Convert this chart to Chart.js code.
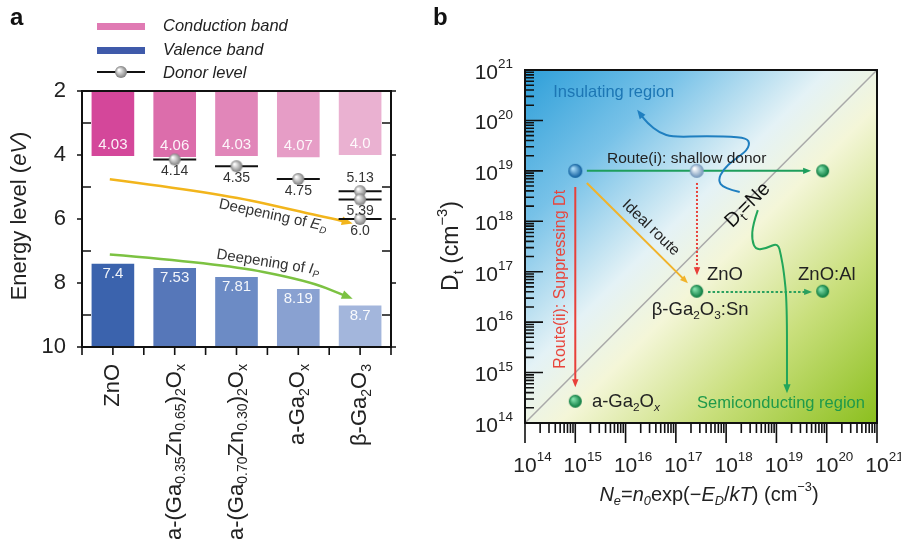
<!DOCTYPE html>
<html>
<head>
<meta charset="utf-8">
<script src="https://cdn.jsdelivr.net/npm/chart.js@4.4.1/dist/chart.umd.min.js"></script>
<style>
html, body { margin: 0; padding: 0; background: #fff; }
#wrap { position: relative; width: 901px; height: 550px; }
#wrap canvas { position: absolute; left: 0; top: 0; }
</style>
</head>
<body>
<div id="wrap">
  <canvas id="chartA" width="901" height="550"></canvas>
  <canvas id="chartB" width="901" height="550"></canvas>
</div>
<script>
// ---------- panel a : band alignment ----------
var materials = ['ZnO', 'a-(Ga_{0.35}Zn_{0.65})_{2}O_{x}', 'a-(Ga_{0.70}Zn_{0.30})_{2}O_{x}', 'a-Ga_{2}O_{x}', 'β-Ga_{2}O_{3}'];
var conductionBand = [4.03, 4.06, 4.03, 4.07, 4.0];
var valenceBand = [7.4, 7.53, 7.81, 8.19, 8.7];
var donorLevels = [[], [4.14], [4.35], [4.75], [5.13, 5.39, 6.0]];
var energyMin = 2, energyMax = 10;
// annotation arrows, in (category index, eV)
var edArrow = [[-0.05, 4.76], [1.73, 5.2], [3.14, 5.82], [3.67, 6.04], [3.88, 6.14]];
var ipArrow = [[-0.05, 7.11], [1.73, 7.39], [3.14, 7.92], [3.88, 8.49]];
var edLabel = {text: 'Deepening of *{E}%{D}', at: [2.59, 5.89], angle: 12};
var ipLabel = {text: 'Deepening of *{I}%{P}', at: [2.51, 7.36], angle: 9};

// ---------- panel b : Dt vs Ne (log10 exponents for annotations) ----------
var decades = [14, 15, 16, 17, 18, 19, 20, 21];
var startPoint = [{x: 1e15, y: 1e19}];
var shallowPoint = [{x: 2.6e17, y: 1e19}];
var materialPoints = [{x: 8.3e19, y: 1e19}, {x: 2.6e17, y: 4.1e16}, {x: 8.3e19, y: 4.1e16}, {x: 1e15, y: 2.7e14}];
var routeI = [[15.23, 19.0], [19.69, 19.0]];
var routeII = [[15.0, 18.68], [15.0, 14.71]];
var shallowDrop = [[17.42, 18.76], [17.42, 16.93]];
var idealRoute = [[15.23, 18.76], [17.24, 16.77]];
var dopingRoute = [[17.64, 16.6], [19.71, 16.6]];
var insulatingCurve = [[18.27, 18.58], [17.94, 18.66], [17.84, 18.82], [17.94, 19.02], [18.14, 19.21], [18.43, 19.41],
  [18.47, 19.61], [18.27, 19.67], [17.62, 19.69], [16.94, 19.67], [16.68, 19.75], [16.43, 19.95], [16.23, 20.21]];
var semiCurve = [[18.63, 18.22], [18.53, 17.93], [18.51, 17.63], [18.59, 17.43], [18.81, 17.47], [19.03, 17.57],
  [19.09, 17.33], [19.15, 16.99], [19.21, 16.38], [19.21, 14.59]];
var textsB = [
  {text: 'Insulating region', at: [14.56, 20.56], size: 16.5, color: '#1c76b4', align: 'left'},
  {text: 'Route(i): shallow donor', at: [15.63, 19.25], size: 15.5, color: '#222', align: 'left'},
  {text: 'Ideal route', at: [16.5, 17.87], size: 15.5, color: '#222', align: 'center', angle: 44},
  {text: 'Route(ii): Suppressing Dt', at: [14.7, 16.85], size: 16, color: '#e8453c', align: 'center', angle: -90},
  {text: 'D_{t}=Ne', at: [18.43, 18.32], size: 20, color: '#111', align: 'center', angle: -45},
  {text: 'ZnO', at: [17.62, 16.93], size: 18.5, color: '#222', align: 'left'},
  {text: 'ZnO:Al', at: [19.43, 16.93], size: 18.5, color: '#222', align: 'left'},
  {text: 'β-Ga_{2}O_{3}:Sn', at: [16.52, 16.24], size: 18.5, color: '#222', align: 'left'},
  {text: 'a-Ga_{2}O%{x}', at: [15.33, 14.41], size: 18.5, color: '#222', align: 'left'},
  {text: 'Semiconducting region', at: [20.76, 14.39], size: 16.5, color: '#1f9a4a', align: 'right'}
];

var FONT = "'Liberation Sans', Arial, sans-serif";
var cbColors = ['#d4479a', '#dc6dab', '#e186b9', '#e69dc6', '#eab1d1'];
var vbColors = ['#3b63ad', '#5677b9', '#6c8bc5', '#89a1d1', '#a3b6dc'];

// _{} sub, ^{} sup, *{} italic, %{} italic sub
function parseRich(str) {
  var out = [], re = /([_^*%])\{([^}]*)\}|([^_^*%]+)/g, m;
  while ((m = re.exec(str)) !== null) {
    if (m[3] !== undefined) out.push({t: m[3], k: ''});
    else out.push({t: m[2], k: m[1]});
  }
  return out;
}
function drawRich(ctx, str, x, y, size, opt) {
  opt = opt || {};
  var segs = parseRich(str), small = size * 0.64, total = 0;
  function fontFor(s) {
    var it = (s.k === '*' || s.k === '%') ? 'italic ' : '';
    var sz = (s.k === '_' || s.k === '^' || s.k === '%') ? small : size;
    return it + (opt.bold ? 'bold ' : '') + sz + 'px ' + FONT;
  }
  segs.forEach(function (s) { ctx.font = fontFor(s); s.w = ctx.measureText(s.t).width; total += s.w; });
  ctx.save();
  ctx.translate(x, y);
  if (opt.angle) ctx.rotate(opt.angle * Math.PI / 180);
  ctx.fillStyle = opt.color || '#222';
  ctx.textBaseline = 'middle';
  ctx.textAlign = 'left';
  var cx = opt.align === 'right' ? -total : (opt.align === 'center' ? -total / 2 : 0);
  segs.forEach(function (s) {
    ctx.font = fontFor(s);
    var dy = 0;
    if (s.k === '_' || s.k === '%') dy = size * 0.3;
    if (s.k === '^') dy = -size * 0.4;
    ctx.fillText(s.t, cx, dy);
    cx += s.w;
  });
  ctx.restore();
  return total;
}
function sphere(light, dark, r) {
  var c = document.createElement('canvas'), s = Math.ceil(r * 2 + 2);
  c.width = s; c.height = s;
  var g = c.getContext('2d');
  var grad = g.createRadialGradient(s / 2 - r * 0.35, s / 2 - r * 0.35, r * 0.1, s / 2, s / 2, r);
  grad.addColorStop(0, light); grad.addColorStop(1, dark);
  g.fillStyle = grad; g.beginPath(); g.arc(s / 2, s / 2, r, 0, Math.PI * 2); g.fill();
  return c;
}
function arrowPath(ctx, pts, color, width, dash, head) {
  var n = pts.length - 1;
  var dx = pts[n][0] - pts[n - 1][0], dy = pts[n][1] - pts[n - 1][1];
  var a = Math.atan2(dy, dx);
  var tip = pts[n];
  var p = pts.slice();
  p[n] = [tip[0] - Math.cos(a) * head * 0.7, tip[1] - Math.sin(a) * head * 0.7];
  ctx.save();
  ctx.strokeStyle = color; ctx.lineWidth = width; ctx.setLineDash(dash || []);
  ctx.beginPath(); ctx.moveTo(p[0][0], p[0][1]);
  for (var i = 1; i < n; i++) {
    ctx.quadraticCurveTo(p[i][0], p[i][1], (p[i][0] + p[i + 1][0]) / 2, (p[i][1] + p[i + 1][1]) / 2);
  }
  ctx.lineTo(p[n][0], p[n][1]);
  ctx.stroke();
  ctx.setLineDash([]);
  ctx.translate(tip[0], tip[1]); ctx.rotate(a);
  ctx.fillStyle = color; ctx.beginPath();
  ctx.moveTo(0, 0); ctx.lineTo(-head, -head * 0.4); ctx.lineTo(-head, head * 0.4); ctx.closePath(); ctx.fill();
  ctx.restore();
}
function fmt(v) { return Number.isInteger(v) ? v.toFixed(1) : String(v); }

var donorBall = sphere('#ffffff', '#7d7d7d', 6);
var donorPoints = [];
donorLevels.forEach(function (arr, i) { arr.forEach(function (v) { donorPoints.push({x: materials[i], y: v}); }); });

// ---------- chart a ----------
var panelA = {
  id: 'panelA',
  beforeDatasetsDraw: function (chart) {
    var ctx = chart.ctx, x = chart.scales.x, y = chart.scales.y;
    function px(p) { return [x.getPixelForValue(p[0]), y.getPixelForValue(p[1])]; }
    arrowPath(ctx, edArrow.map(px), '#f2b51c', 2.5, [], 11);
    arrowPath(ctx, ipArrow.map(px), '#7cc242', 2.5, [], 11);
  },
  afterDraw: function (chart) {
    var ctx = chart.ctx, x = chart.scales.x, y = chart.scales.y, a = chart.chartArea;
    // bar values
    materials.forEach(function (m, i) {
      var cx = x.getPixelForValue(i);
      drawRich(ctx, fmt(conductionBand[i]), cx, y.getPixelForValue(conductionBand[i]) - 11, 15, {align: 'center', color: 'rgba(255,255,255,0.92)'});
      drawRich(ctx, fmt(valenceBand[i]), cx, y.getPixelForValue(valenceBand[i]) + 10, 15, {align: 'center', color: 'rgba(255,255,255,0.92)'});
      donorLevels[i].forEach(function (v, j) {
        var above = donorLevels[i].length > 1 && j === 0;
        drawRich(ctx, fmt(v), cx, y.getPixelForValue(v) + (above ? -13 : 12), 14, {align: 'center', color: '#333'});
      });
    });
    drawRich(ctx, edLabel.text, x.getPixelForValue(edLabel.at[0]), y.getPixelForValue(edLabel.at[1]), 15, {align: 'center', color: '#333', angle: edLabel.angle});
    drawRich(ctx, ipLabel.text, x.getPixelForValue(ipLabel.at[0]), y.getPixelForValue(ipLabel.at[1]), 15, {align: 'center', color: '#333', angle: ipLabel.angle});
    // frame and ticks
    ctx.save();
    ctx.strokeStyle = '#111'; ctx.lineWidth = 2;
    ctx.strokeRect(a.left, a.top, a.right - a.left, a.bottom - a.top);
    ctx.lineWidth = 1.6;
    ctx.beginPath();
    y.ticks.forEach(function (t) {
      var py = y.getPixelForValue(t.value);
      if (t.value % 2 === 0) {
        ctx.moveTo(a.left - 5, py); ctx.lineTo(a.left, py);
        ctx.moveTo(a.right, py); ctx.lineTo(a.right + 5, py);
      } else {
        ctx.moveTo(a.left, py); ctx.lineTo(a.left + 9, py);
        ctx.moveTo(a.right, py); ctx.lineTo(a.right - 9, py);
      }
    });
    for (var k = -0.5; k <= materials.length - 0.5; k += 0.5) {
      var tx = x.getPixelForValue(k);
      ctx.moveTo(tx, a.bottom); ctx.lineTo(tx, a.bottom + 8);
    }
    ctx.stroke();
    ctx.restore();
    // category labels
    materials.forEach(function (m, i) {
      drawRich(ctx, m, x.getPixelForValue(i), a.bottom + 17, 22, {align: 'right', angle: -90, color: '#222'});
    });
    drawRich(ctx, 'Energy level (*{eV})', 20, 216, 22, {align: 'center', angle: -90, color: '#222'});
    // legend
    var ds = chart.data.datasets;
    ctx.fillStyle = '#e07ab3'; ctx.fillRect(97, 23, 48, 7);
    ctx.fillStyle = '#3f5aaa'; ctx.fillRect(97, 47, 48, 7);
    ctx.strokeStyle = '#111'; ctx.lineWidth = 2;
    ctx.beginPath(); ctx.moveTo(97, 72); ctx.lineTo(145, 72); ctx.stroke();
    ctx.drawImage(donorBall, 121 - donorBall.width / 2, 72 - donorBall.height / 2);
    drawRich(ctx, '*{' + ds[0].label + '}', 163, 26, 16.5, {color: '#222'});
    drawRich(ctx, '*{' + ds[1].label + '}', 163, 50, 16.5, {color: '#222'});
    drawRich(ctx, '*{' + ds[2].label + '}', 163, 73, 16.5, {color: '#222'});
    drawRich(ctx, 'a', 10, 18, 24, {bold: true, color: '#111'});
    drawRich(ctx, 'b', 433, 18, 24, {bold: true, color: '#111'});
  }
};

new Chart(document.getElementById('chartA'), {
  type: 'bar',
  data: {
    labels: materials,
    datasets: [
      {label: 'Conduction band', data: conductionBand.map(function (v) { return [energyMin, v]; }),
        backgroundColor: cbColors, grouped: false, barPercentage: 0.69, categoryPercentage: 1, order: 3},
      {label: 'Valence band', data: valenceBand.map(function (v) { return [v, energyMax]; }),
        backgroundColor: vbColors, grouped: false, barPercentage: 0.69, categoryPercentage: 1, order: 3},
      {type: 'line', label: 'Donor level', data: donorPoints, showLine: false, pointStyle: 'line',
        pointRadius: 21.5, pointBorderColor: '#111', pointBorderWidth: 2, order: 1},
      {type: 'line', label: 'donor sphere', data: donorPoints, showLine: false, pointStyle: donorBall,
        pointRadius: 6, order: 0}
    ]
  },
  options: {
    responsive: false,
    animation: false,
    events: [],
    layout: {padding: {left: 0, top: 91, right: 510, bottom: 203}},
    plugins: {legend: {display: false}, tooltip: {enabled: false}},
    scales: {
      x: {display: false},
      y: {
        reverse: true, min: energyMin, max: energyMax,
        grid: {display: false}, border: {display: false},
        ticks: {stepSize: 1, autoSkip: false, padding: 8, color: '#222', font: {family: FONT, size: 22},
          callback: function (v) { return v % 2 === 0 ? v : ''; }},
        afterFit: function (s) { s.width = 82; }
      }
    }
  },
  plugins: [panelA]
});

// ---------- chart b ----------
var panelB = {
  id: 'panelB',
  beforeDatasetsDraw: function (chart) {
    var ctx = chart.ctx, x = chart.scales.x, y = chart.scales.y, a = chart.chartArea;
    function px(p) { return [x.getPixelForValue(Math.pow(10, p[0])), y.getPixelForValue(Math.pow(10, p[1]))]; }
    var g = ctx.createLinearGradient(a.left, a.top, a.right, a.bottom);
    g.addColorStop(0, '#2e9fd9');
    g.addColorStop(0.22, '#78c2e8');
    g.addColorStop(0.43, '#e4f2f6');
    g.addColorStop(0.55, '#f4f6d8');
    g.addColorStop(0.75, '#c9df7c');
    g.addColorStop(1, '#8bbf1e');
    ctx.save();
    ctx.fillStyle = g;
    ctx.fillRect(a.left, a.top, a.right - a.left, a.bottom - a.top);
    ctx.strokeStyle = '#a9a9a9'; ctx.lineWidth = 1.5;
    ctx.beginPath();
    ctx.moveTo(x.getPixelForValue(1e14), y.getPixelForValue(1e14));
    ctx.lineTo(x.getPixelForValue(1e21), y.getPixelForValue(1e21));
    ctx.stroke();
    ctx.restore();
    arrowPath(ctx, routeI.map(px), '#1e9e5c', 2, [], 8);
    arrowPath(ctx, routeII.map(px), '#e8403a', 2, [], 8);
    arrowPath(ctx, shallowDrop.map(px), '#e8403a', 2, [2, 2], 8);
    arrowPath(ctx, idealRoute.map(px), '#f1b32a', 2, [], 8);
    arrowPath(ctx, dopingRoute.map(px), '#2aa05e', 2, [2.5, 2], 8);
    arrowPath(ctx, insulatingCurve.map(px), '#1f7fc0', 2, [], 9);
    arrowPath(ctx, semiCurve.map(px), '#22a65a', 2, [], 9);
  },
  afterDraw: function (chart) {
    var ctx = chart.ctx, x = chart.scales.x, y = chart.scales.y, a = chart.chartArea;
    ctx.save();
    ctx.strokeStyle = '#111'; ctx.lineWidth = 2;
    ctx.strokeRect(a.left, a.top, a.right - a.left, a.bottom - a.top);
    ctx.lineWidth = 1.6;
    ctx.beginPath();
    decades.forEach(function (d, i) {
      var v = Math.pow(10, d);
      var yy = y.getPixelForValue(v), xx = x.getPixelForValue(v);
      ctx.moveTo(a.left, yy); ctx.lineTo(a.left + 18, yy);
      ctx.moveTo(xx, a.bottom); ctx.lineTo(xx, a.bottom + 20);
      if (i < decades.length - 1) {
        for (var m = 2; m <= 9; m++) {
          var ym = y.getPixelForValue(m * v), xm = x.getPixelForValue(m * v);
          ctx.moveTo(a.left, ym); ctx.lineTo(a.left + 9, ym);
          ctx.moveTo(xm, a.bottom); ctx.lineTo(xm, a.bottom + 10);
        }
      }
    });
    ctx.stroke();
    ctx.restore();
    decades.forEach(function (d) {
      var v = Math.pow(10, d);
      drawRich(ctx, '10^{' + d + '}', a.left - 12, y.getPixelForValue(v) + 3, 21, {align: 'right', color: '#222'});
      ctx.font = '21px ' + FONT;
      var w10 = ctx.measureText('10').width;
      drawRich(ctx, '10^{' + d + '}', x.getPixelForValue(v) - w10 / 2, a.bottom + 43, 21, {color: '#222'});
    });
    drawRich(ctx, '*{N}%{e}=*{n}%{0}exp(−*{E}%{D}/*{kT}) (cm^{−3})', (a.left + a.right) / 2 + 8, 495, 20, {align: 'center', color: '#222'});
    drawRich(ctx, 'D_{t} (cm^{−3})', 452, 246, 23, {align: 'center', angle: -90, color: '#222'});
    textsB.forEach(function (t) {
      var pxx = x.getPixelForValue(Math.pow(10, t.at[0])), pyy = y.getPixelForValue(Math.pow(10, t.at[1]));
      drawRich(ctx, t.text, pxx, pyy, t.size, {align: t.align, color: t.color, angle: t.angle || 0});
    });
  }
};

new Chart(document.getElementById('chartB'), {
  type: 'scatter',
  data: {
    datasets: [
      {label: 'Starting point', data: startPoint, pointStyle: sphere('#a6dbfa', '#0a5a9a', 7), pointRadius: 7},
      {label: 'Shallow donor', data: shallowPoint, pointStyle: sphere('#ffffff', '#6f93b8', 7), pointRadius: 7},
      {label: 'Materials', data: materialPoints, pointStyle: sphere('#86e3ae', '#06763a', 6.5), pointRadius: 6.5}
    ]
  },
  options: {
    responsive: false,
    animation: false,
    events: [],
    layout: {padding: {left: 525, top: 70, right: 24, bottom: 127}},
    plugins: {legend: {display: false}, tooltip: {enabled: false}},
    scales: {
      x: {type: 'logarithmic', min: 1e14, max: 1e21, display: false},
      y: {type: 'logarithmic', min: 1e14, max: 1e21, display: false}
    }
  },
  plugins: [panelB]
});
</script>
</body>
</html>
